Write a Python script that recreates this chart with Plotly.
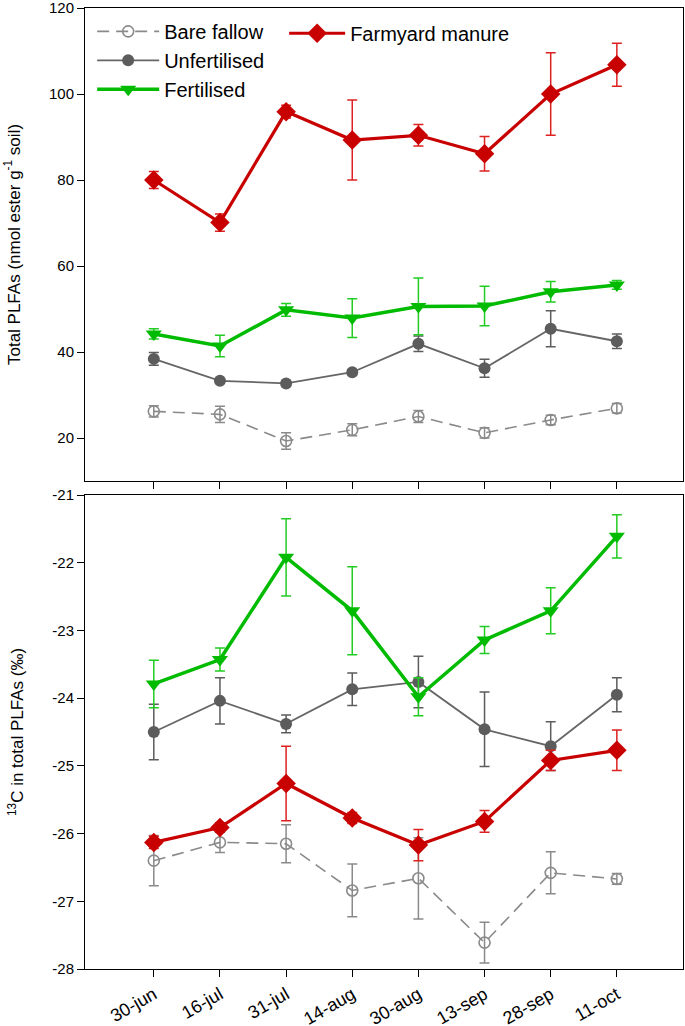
import plotly.graph_objects as go

dates = ["30-jun", "16-jul", "31-jul", "14-aug", "30-aug", "13-sep", "28-sep", "11-oct"]
xpos = list(range(len(dates)))

# Total PLFAs (nmol ester g-1 soil)
bare_tot = [26.2, 25.5, 19.3, 21.9, 25.0, 21.2, 24.2, 26.9]
bare_tot_err = [1.3, 1.9, 1.9, 1.4, 1.4, 1.2, 1.1, 1.1]
unf_tot = [38.4, 33.3, 32.7, 35.3, 41.9, 36.2, 45.4, 42.5]
unf_tot_err = [1.5, 0.5, 0.5, 0.5, 1.8, 2.1, 4.2, 1.7]
fert_tot = [44.2, 41.4, 49.8, 47.9, 50.6, 50.7, 54.0, 55.6]
fert_tot_err = [1.2, 2.5, 1.5, 4.5, 6.6, 4.6, 2.4, 1.0]
fym_tot = [80.0, 70.1, 95.9, 89.3, 90.4, 86.1, 100.0, 106.8]
fym_tot_err = [2.0, 2.0, 1.5, 9.3, 2.5, 4.0, 9.6, 5.0]

# 13C in total PLFAs (permil)
bare_c13 = [-26.40, -26.13, -26.15, -26.84, -26.66, -27.61, -26.58, -26.67]
bare_c13_err = [0.37, 0.15, 0.28, 0.39, 0.60, 0.30, 0.31, 0.08]
unf_c13 = [-24.50, -24.04, -24.38, -23.87, -23.76, -24.46, -24.71, -23.95]
unf_c13_err = [0.41, 0.34, 0.13, 0.24, 0.38, 0.55, 0.36, 0.25]
fert_c13 = [-23.79, -23.43, -21.92, -22.71, -23.98, -23.14, -22.71, -21.61]
fert_c13_err = [0.35, 0.17, 0.57, 0.65, 0.28, 0.20, 0.34, 0.32]
fym_c13 = [-26.13, -25.91, -25.26, -25.77, -26.17, -25.82, -24.92, -24.77]
fym_c13_err = [0.09, 0.07, 0.55, 0.08, 0.23, 0.16, 0.15, 0.30]

top_ticks = [20, 40, 60, 80, 100, 120]
bot_ticks = [-28, -27, -26, -25, -24, -23, -22, -21]
bot_ticktext = ["-28", "-27", "-26", "-25", "-24", "-23", "-22", "-21"]

FONT = "Liberation Sans, Arial, sans-serif"

styles = {
    "Bare fallow": dict(line=dict(color="#8a8a8a", width=1.6, dash="12px,7px"),
                        marker=dict(symbol="circle-open", size=11, color="#8a8a8a", line=dict(width=1.6)),
                        ecolor="#8a8a8a", ew=1.5, legend="legend"),
    "Unfertilised": dict(line=dict(color="#666666", width=1.8),
                         marker=dict(symbol="circle", size=12, color="#5c5c5c"),
                         ecolor="#5c5c5c", ew=1.5, legend="legend"),
    "Fertilised": dict(line=dict(color="#00bb00", width=3.5),
                       marker=dict(symbol="triangle-down", size=14, color="#00bb00"),
                       ecolor="#22cc22", ew=1.5, legend="legend"),
    "Farmyard manure": dict(line=dict(color="#c80000", width=3.2),
                            marker=dict(symbol="diamond", size=15, color="#c80000"),
                            ecolor="#dd2020", ew=1.5, legend="legend2"),
}

series = [
    ("Bare fallow", bare_tot, bare_tot_err, bare_c13, bare_c13_err),
    ("Unfertilised", unf_tot, unf_tot_err, unf_c13, unf_c13_err),
    ("Fertilised", fert_tot, fert_tot_err, fert_c13, fert_c13_err),
    ("Farmyard manure", fym_tot, fym_tot_err, fym_c13, fym_c13_err),
]

fig = go.Figure()
for name, tot, tot_err, c13, c13_err in series:
    st = styles[name]
    fig.add_trace(go.Scatter(
        x=xpos, y=tot, name=name, mode="lines+markers",
        line=st["line"], marker=st["marker"],
        error_y=dict(type="data", array=tot_err, visible=True, color=st["ecolor"],
                     thickness=st["ew"], width=5),
        xaxis="x", yaxis="y", legend=st["legend"], showlegend=True,
    ))
    fig.add_trace(go.Scatter(
        x=xpos, y=c13, name=name, mode="lines+markers",
        line=st["line"], marker=st["marker"],
        error_y=dict(type="data", array=c13_err, visible=True, color=st["ecolor"],
                     thickness=st["ew"], width=5),
        xaxis="x2", yaxis="y2", showlegend=False,
    ))

axis_common = dict(showline=True, linecolor="black", linewidth=1, mirror=True,
                   showgrid=False, zeroline=False, ticks="outside", ticklen=7,
                   tickwidth=1, tickcolor="black", automargin=False,
                   ticklabeloverflow="allow",
                   tickfont=dict(family=FONT, size=15, color="black"))

fig.update_layout(
    width=685, height=1026,
    margin=dict(l=85, r=2, t=8, b=57),
    paper_bgcolor="white", plot_bgcolor="white",
    font=dict(family=FONT, color="black"),
    xaxis=dict(axis_common, anchor="y", range=[-1.04, 8.0], tickvals=xpos,
               showticklabels=False),
    yaxis=dict(axis_common, anchor="x", domain=[0.5078, 1.0], range=[10, 120],
               tickvals=top_ticks,
               title=dict(text="Total PLFAs (nmol ester g<sup>-1</sup> soil)",
                          font=dict(family=FONT, size=17), standoff=24)),
    xaxis2=dict(axis_common, anchor="y2", range=[-1.04, 8.0], tickvals=xpos,
                ticktext=dates, tickangle=-30,
                tickfont=dict(family=FONT, size=18, color="black")),
    yaxis2=dict(axis_common, anchor="x2", domain=[0.0, 0.4932], range=[-28, -21],
                tickvals=bot_ticks, ticktext=bot_ticktext,
                title=dict(text="<sup>13</sup>C in total PLFAs (‰)",
                           font=dict(family=FONT, size=17), standoff=24)),
    legend=dict(x=0.012, y=0.996, xanchor="left", yanchor="top",
                bgcolor="rgba(0,0,0,0)", borderwidth=0,
                font=dict(family=FONT, size=20), itemwidth=62,
                tracegroupgap=0),
    legend2=dict(x=0.333, y=0.994, xanchor="left", yanchor="top",
                 bgcolor="rgba(0,0,0,0)", borderwidth=0,
                 font=dict(family=FONT, size=20), itemwidth=56),
)

fig.write_html("out.html", config={"displayModeBar": False},
               post_script="document.body.style.margin='0';")
